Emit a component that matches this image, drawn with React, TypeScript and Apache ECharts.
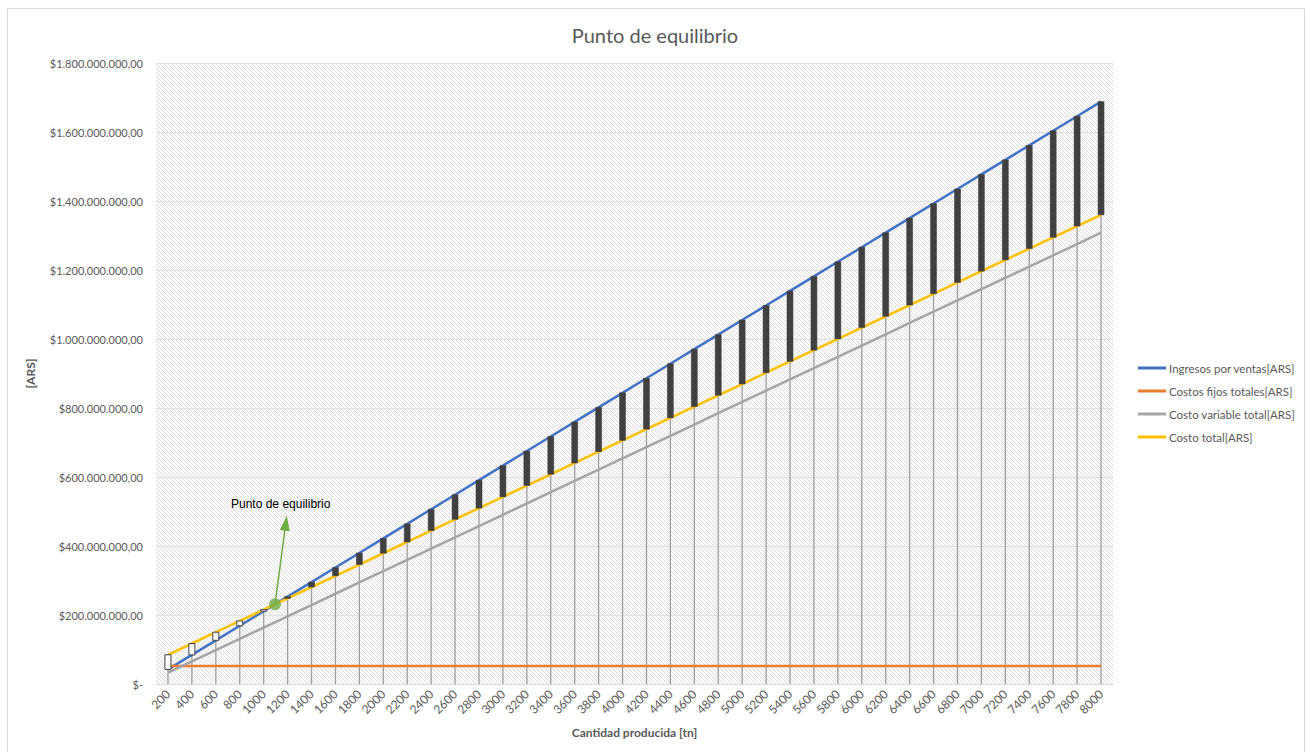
import React, { useEffect, useRef } from "react";
import * as echarts from "echarts";

const categories = [
  "200", "400", "600", "800", "1000", "1200", "1400", "1600", "1800", "2000",
  "2200", "2400", "2600", "2800", "3000", "3200", "3400", "3600", "3800", "4000",
  "4200", "4400", "4600", "4800", "5000", "5200", "5400", "5600", "5800", "6000",
  "6200", "6400", "6600", "6800", "7000", "7200", "7400", "7600", "7800", "8000",
];

// values in ARS
const ingresos = [
  42200000, 84400000, 126600000, 168800000, 211000000, 253200000, 295400000, 337600000, 379800000, 422000000,
  464200000, 506400000, 548600000, 590800000, 633000000, 675200000, 717400000, 759600000, 801800000, 844000000,
  886200000, 928400000, 970600000, 1012800000, 1055000000, 1097200000, 1139400000, 1181600000, 1223800000, 1266000000,
  1308200000, 1350400000, 1392600000, 1434800000, 1477000000, 1519200000, 1561400000, 1603600000, 1645800000, 1688000000,
];

const costosFijos = [
  52000000, 52000000, 52000000, 52000000, 52000000, 52000000, 52000000, 52000000, 52000000, 52000000,
  52000000, 52000000, 52000000, 52000000, 52000000, 52000000, 52000000, 52000000, 52000000, 52000000,
  52000000, 52000000, 52000000, 52000000, 52000000, 52000000, 52000000, 52000000, 52000000, 52000000,
  52000000, 52000000, 52000000, 52000000, 52000000, 52000000, 52000000, 52000000, 52000000, 52000000,
];

const costoVariable = [
  32700000, 65400000, 98100000, 130800000, 163500000, 196200000, 228900000, 261600000, 294300000, 327000000,
  359700000, 392400000, 425100000, 457800000, 490500000, 523200000, 555900000, 588600000, 621300000, 654000000,
  686700000, 719400000, 752100000, 784800000, 817500000, 850200000, 882900000, 915600000, 948300000, 981000000,
  1013700000, 1046400000, 1079100000, 1111800000, 1144500000, 1177200000, 1209900000, 1242600000, 1275300000, 1308000000,
];

const costoTotal = [
  84700000, 117400000, 150100000, 182800000, 215500000, 248200000, 280900000, 313600000, 346300000, 379000000,
  411700000, 444400000, 477100000, 509800000, 542500000, 575200000, 607900000, 640600000, 673300000, 706000000,
  738700000, 771400000, 804100000, 836800000, 869500000, 902200000, 934900000, 967600000, 1000300000, 1033000000,
  1065700000, 1098400000, 1131100000, 1163800000, 1196500000, 1229200000, 1261900000, 1294600000, 1327300000, 1360000000,
];

// break-even point [tn, ARS] and arrow head position of the annotation [tn, ARS]
const puntoEquilibrio = [1095, 231000000];
const flechaFin = [1185, 466000000];

const seriesNames = [
  "Ingresos por ventas[ARS]",
  "Costos fijos totales[ARS]",
  "Costo variable total[ARS]",
  "Costo total[ARS]",
];
const seriesColors = ["#4472C4", "#ED7D31", "#A5A5A5", "#FFC000"];

function makeHatch(): string {
  const c = document.createElement("canvas");
  c.width = 4;
  c.height = 4;
  const ctx = c.getContext("2d");
  if (!ctx) return "";
  ctx.fillStyle = "#f8f8f8";
  ctx.fillRect(0, 0, 4, 4);
  ctx.strokeStyle = "#e2e2e2";
  ctx.lineWidth = 1;
  ctx.beginPath();
  ctx.moveTo(-1, -1);
  ctx.lineTo(5, 5);
  ctx.moveTo(-1, 3);
  ctx.lineTo(1, 5);
  ctx.moveTo(3, -1);
  ctx.lineTo(5, 1);
  ctx.stroke();
  return c.toDataURL();
}

function fmtMoney(v: number): string {
  if (v === 0) return "$-";
  const s = Math.round(v).toString().replace(/\B(?=(\d{3})+(?!\d))/g, ".");
  return "$" + s + ",00";
}

const FONT = "Lato";
const TXT = "#595959";

export default function App() {
  const ref = useRef<HTMLDivElement>(null);

  useEffect(() => {
    document.body.style.margin = "0";
    if (!ref.current) return;
    const chart = echarts.init(ref.current, undefined, { renderer: "svg" });
    const hatch = makeHatch();

    const dropData = categories.map((_, i) => [i, Math.max(ingresos[i], costoTotal[i])]);
    const barData = categories.map((_, i) => [i, ingresos[i], costoTotal[i]]);

    const lineSeries = [ingresos, costosFijos, costoVariable, costoTotal].map((d, k) => ({
      name: seriesNames[k],
      type: "line",
      data: d,
      symbol: "none",
      showSymbol: false,
      lineStyle: { color: seriesColors[k], width: 2.5 },
      itemStyle: { color: seriesColors[k] },
      z: 3,
    }));

    const option: any = {
      animation: false,
      backgroundColor: "#ffffff",
      textStyle: { fontFamily: FONT },
      title: {
        text: "Punto de equilibrio",
        left: "center",
        top: 20,
        textStyle: { fontFamily: FONT, fontSize: 20, fontWeight: "normal", color: TXT },
      },
      legend: {
        orient: "vertical",
        left: 1133,
        top: 357,
        icon: "rect",
        itemWidth: 28,
        itemHeight: 3,
        itemGap: 11,
        data: seriesNames,
        textStyle: { fontFamily: FONT, fontSize: 11.5, color: TXT, padding: [0, 0, 0, -2] },
      },
      grid: {
        left: 156,
        right: 197,
        top: 63,
        bottom: 68,
        show: true,
        borderWidth: 0,
        backgroundColor: hatch ? { image: hatch, repeat: "repeat" } : "#f2f2f2",
      },
      xAxis: [
        {
          type: "category",
          data: categories,
          boundaryGap: true,
          name: "Cantidad producida [tn]",
          nameLocation: "middle",
          nameGap: 42,
          nameTextStyle: { fontFamily: FONT, fontSize: 12, fontWeight: "bold", color: TXT },
          axisLine: { show: true, lineStyle: { color: "#d9d9d9", width: 1 } },
          axisTick: { show: false },
          axisLabel: { rotate: 45, fontFamily: FONT, fontSize: 12, color: TXT, margin: 8, interval: 0 },
          splitLine: { show: false },
        },
        {
          type: "value",
          min: 100,
          max: 8100,
          show: false,
        },
      ],
      yAxis: {
        type: "value",
        min: 0,
        max: 1800000000,
        interval: 200000000,
        name: "[ARS]",
        nameLocation: "middle",
        nameGap: 120,
        nameTextStyle: { fontFamily: FONT, fontSize: 12, fontWeight: "bold", color: TXT },
        axisLine: { show: false },
        axisTick: { show: false },
        axisLabel: { formatter: fmtMoney, fontFamily: FONT, fontSize: 11, color: TXT, margin: 13 },
        splitLine: { show: true, lineStyle: { color: "#e0e0e0", width: 1 } },
      },
      series: [
        {
          name: "drop",
          type: "custom",
          data: dropData,
          z: 1,
          silent: true,
          renderItem: (_p: any, api: any) => {
            const top = api.coord([api.value(0), api.value(1)]);
            const bot = api.coord([api.value(0), 0]);
            return {
              type: "line",
              shape: { x1: top[0], y1: top[1], x2: bot[0], y2: bot[1] },
              style: { stroke: "#a0a0a0", lineWidth: 1.3 },
            };
          },
        },
        ...lineSeries,
        {
          name: "updown",
          type: "custom",
          data: barData,
          z: 5,
          silent: true,
          renderItem: (_p: any, api: any) => {
            const up = api.value(1);
            const down = api.value(2);
            const a = api.coord([api.value(0), up]);
            const b = api.coord([api.value(0), down]);
            const w = 6;
            const y0 = Math.min(a[1], b[1]);
            const h = Math.abs(a[1] - b[1]);
            const isUp = up > down;
            return {
              type: "rect",
              shape: { x: a[0] - w / 2, y: y0, width: w, height: h },
              style: {
                fill: isUp ? "#404040" : "#ffffff",
                stroke: "#404040",
                lineWidth: isUp ? 0.5 : 1,
              },
            };
          },
        },
        {
          name: "equilibrio",
          type: "scatter",
          xAxisIndex: 1,
          data: [puntoEquilibrio],
          symbolSize: 12,
          itemStyle: { color: "#70AD47" },
          z: 8,
          silent: true,
          markLine: {
            silent: true,
            symbol: ["none", "triangle"],
            symbolSize: [10, 15],
            label: { show: false },
            lineStyle: { color: "#70AD47", width: 1.5, type: "solid" },
            data: [[{ coord: puntoEquilibrio }, { coord: flechaFin }]],
          },
        },
      ],
      graphic: [
        {
          type: "rect",
          shape: { x: 7.5, y: 8.5, width: 1297, height: 760 },
          style: { fill: "none", stroke: "#d9d9d9", lineWidth: 1 },
          silent: true,
          z: 0,
        },
        {
          type: "text",
          left: 231,
          top: 498,
          style: { text: "Punto de equilibrio", font: "12px 'Liberation Sans', Arial", fill: "#000000" },
          z: 10,
        },
      ],
    };

    chart.setOption(option);
    return () => chart.dispose();
  }, []);

  return <div ref={ref} style={{ width: 1310, height: 752 }} />;
}
